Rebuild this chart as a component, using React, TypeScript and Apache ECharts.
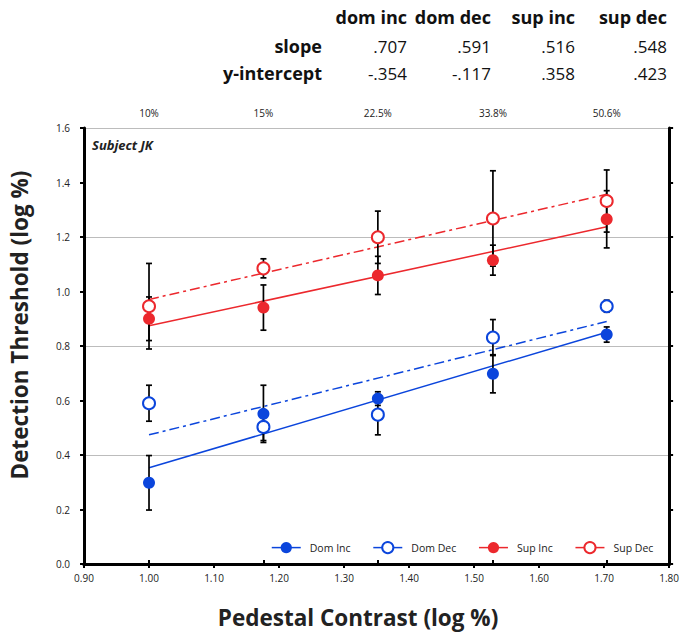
import React, { useEffect, useRef } from "react";
import * as echarts from "echarts";

// ---- data ----
const pedestalX = [1.0, 1.176, 1.352, 1.529, 1.704];
const topLabels = ["10%", "15%", "22.5%", "33.8%", "50.6%"];
const seriesNames = ["Dom Inc", "Dom Dec", "Sup Inc", "Sup Dec"];
const domInc = [0.298, 0.551, 0.607, 0.698, 0.842];
const domIncErr = [0.1, 0.105, 0.025, 0.07, 0.028];
const domDec = [0.59, 0.503, 0.548, 0.831, 0.946];
const domDecErr = [0.066, 0.05, 0.074, 0.066, 0.022];
const supInc = [0.9, 0.941, 1.059, 1.115, 1.265];
const supIncErr = [0.08, 0.083, 0.07, 0.055, 0.105];
const supDec = [0.946, 1.085, 1.199, 1.268, 1.332];
const supDecErr = [0.157, 0.035, 0.096, 0.175, 0.114];
const tableHeaders = ["dom inc", "dom dec", "sup inc", "sup dec"];
const slopes = [0.707, 0.591, 0.516, 0.548];
const intercepts = [-0.354, -0.117, 0.358, 0.423];
const slopeLabels = [".707", ".591", ".516", ".548"];
const interceptLabels = ["-.354", "-.117", ".358", ".423"];

const BLUE = "#0b45dc";
const RED = "#ec282d";
const FONT = "'Open Sans', sans-serif";

export default function App() {
  const ref = useRef<HTMLDivElement>(null);
  useEffect(() => {
    if (!ref.current) return;
    const chart = echarts.init(ref.current, undefined, { renderer: "svg" });

    const vals = [domInc, domDec, supInc, supDec];
    const errs = [domIncErr, domDecErr, supIncErr, supDecErr];
    const colors = [BLUE, BLUE, RED, RED];
    const filled = [true, false, true, false];

    const pointSeries = seriesNames.map((name, i) => ({
      name,
      type: "line",
      data: pedestalX.map((x, j) => [x, vals[i][j]]),
      symbol: filled[i] ? "circle" : "emptyCircle",
      symbolSize: 12,
      showSymbol: true,
      lineStyle: { width: 0, color: colors[i] },
      itemStyle: { color: colors[i], borderWidth: filled[i] ? 0 : 1.8, borderColor: colors[i] },
      z: 6,
    }));

    const x0 = pedestalX[0];
    const x1 = pedestalX[pedestalX.length - 1];
    const fitSeries = seriesNames.map((name, i) => ({
      name: name + " fit",
      type: "line",
      data: [
        [x0, slopes[i] * x0 + intercepts[i]],
        [x1, slopes[i] * x1 + intercepts[i]],
      ],
      symbol: "none",
      lineStyle: {
        width: 1.5,
        color: colors[i],
        type: filled[i] ? "solid" : [10, 4, 3, 4],
      },
      z: 3,
    }));

    const errData: number[][] = [];
    vals.forEach((v, i) =>
      v.forEach((y, j) => errData.push([pedestalX[j], y - errs[i][j], y + errs[i][j]]))
    );
    const errSeries = {
      name: "errors",
      type: "custom",
      data: errData,
      encode: { x: 0, y: [1, 2] },
      z: 4,
      renderItem: (_p: any, api: any) => {
        const x = api.value(0);
        const lo = api.coord([x, api.value(1)]);
        const hi = api.coord([x, api.value(2)]);
        const w = 3;
        const style = { stroke: "#000", lineWidth: 1.7 };
        return {
          type: "group",
          children: [
            { type: "line", shape: { x1: lo[0], y1: lo[1], x2: hi[0], y2: hi[1] }, style },
            { type: "line", shape: { x1: lo[0] - w, y1: lo[1], x2: lo[0] + w, y2: lo[1] }, style },
            { type: "line", shape: { x1: hi[0] - w, y1: hi[1], x2: hi[0] + w, y2: hi[1] }, style },
          ],
        };
      },
    };

    const colRight = [407, 491, 575, 667];
    const tableTexts: any[] = [];
    tableHeaders.forEach((h, i) =>
      tableTexts.push({
        type: "text",
        x: colRight[i],
        y: 17,
        style: { text: h, font: `bold 18px ${FONT}`, fill: "#111", textAlign: "right", textVerticalAlign: "middle" },
      })
    );
    tableTexts.push({
      type: "text", x: 322, y: 46,
      style: { text: "slope", font: `bold 18px ${FONT}`, fill: "#111", textAlign: "right", textVerticalAlign: "middle" },
    });
    tableTexts.push({
      type: "text", x: 322, y: 73,
      style: { text: "y-intercept", font: `bold 18px ${FONT}`, fill: "#111", textAlign: "right", textVerticalAlign: "middle" },
    });
    slopeLabels.forEach((s, i) =>
      tableTexts.push({
        type: "text", x: colRight[i], y: 46,
        style: { text: s, font: `17px ${FONT}`, fill: "#111", textAlign: "right", textVerticalAlign: "middle" },
      })
    );
    interceptLabels.forEach((s, i) =>
      tableTexts.push({
        type: "text", x: colRight[i], y: 73,
        style: { text: s, font: `17px ${FONT}`, fill: "#111", textAlign: "right", textVerticalAlign: "middle" },
      })
    );

    const axisLine = { show: true, lineStyle: { color: "#000", width: 3 } };
    const tick = { show: true, length: 4, lineStyle: { color: "#000", width: 2 } };
    const lbl = { fontFamily: FONT, fontSize: 10, color: "#222" };

    chart.setOption({
      animation: false,
      backgroundColor: "#fff",
      grid: { left: 84, right: 9, top: 128, bottom: 72, containLabel: false },
      xAxis: [
        {
          type: "value", position: "bottom", min: 0.9, max: 1.8, interval: 0.1,
          axisLine, axisTick: tick, splitLine: { show: false },
          axisLabel: { ...lbl, margin: 9, formatter: (v: number) => v.toFixed(2) },
        },
        {
          type: "value", position: "top", min: 0.9, max: 1.8,
          axisLine, splitLine: { show: false },
          axisTick: { ...tick, customValues: pedestalX },
          axisLabel: {
            ...lbl, margin: 10, customValues: pedestalX,
            formatter: (v: number) => {
              let best = 0;
              pedestalX.forEach((p, k) => { if (Math.abs(p - v) < Math.abs(pedestalX[best] - v)) best = k; });
              return topLabels[best];
            },
          },
        },
      ],
      yAxis: [
        {
          type: "value", position: "left", min: 0, max: 1.6, interval: 0.2,
          axisLine, axisTick: tick, splitLine: { show: false },
          axisLabel: { ...lbl, margin: 14, formatter: (v: number) => v.toFixed(1) },
        },
        {
          type: "value", position: "right", min: 0, max: 1.6, interval: 0.2,
          axisLine, axisTick: tick, splitLine: { show: false }, axisLabel: { show: false },
        },
        {
          type: "value", position: "left", min: 0, max: 1.6, interval: 0.4,
          axisLine: { show: false }, axisTick: { show: false }, axisLabel: { show: false },
          splitLine: { show: true, lineStyle: { color: "#bcbcbc", width: 1.2 } },
        },
      ],
      legend: {
        data: seriesNames,
        left: 266,
        top: 536,
        itemWidth: 29,
        itemHeight: 14,
        itemGap: 22,
        lineStyle: { width: 1.5, opacity: 1 },
        textStyle: { fontFamily: FONT, fontSize: 10.5, color: "#222", padding: [0, 0, 0, 4] },
        selectedMode: false,
      },
      graphic: [
        ...tableTexts,
        {
          type: "text", x: 92, y: 145,
          style: { text: "Subject JK", font: `italic bold 13px ${FONT}`, fill: "#222", textVerticalAlign: "middle" },
        },
        {
          type: "text", x: 358, y: 617,
          style: { text: "Pedestal Contrast (log %)", font: `bold 22.5px ${FONT}`, fill: "#222", textAlign: "center", textVerticalAlign: "middle" },
        },
        {
          type: "text", x: 19, y: 325, rotation: Math.PI / 2,
          style: { text: "Detection Threshold (log %)", font: `bold 22.5px ${FONT}`, fill: "#222", textAlign: "center", textVerticalAlign: "middle" },
        },
      ],
      series: [...fitSeries, errSeries, ...pointSeries],
    });

    return () => chart.dispose();
  }, []);

  return (
    <div
      ref={ref}
      style={{ position: "fixed", left: 0, top: 0, width: 682, height: 636 }}
    />
  );
}
